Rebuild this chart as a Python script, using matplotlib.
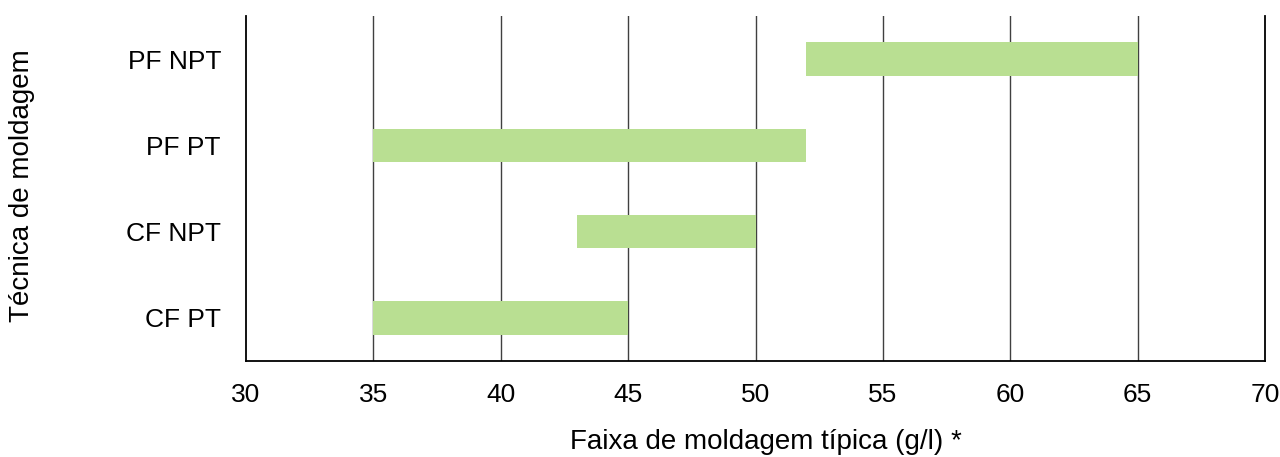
import matplotlib
matplotlib.use("Agg")
import matplotlib.pyplot as plt

categories = ["CF PT", "CF NPT", "PF PT", "PF NPT"]
starts = [35, 43, 35, 52]
ends = [45, 50, 52, 65]
xticks = [30, 35, 40, 45, 50, 55, 60, 65, 70]

plt.rcParams['font.family'] = ['Liberation Sans', 'DejaVu Sans']

fig = plt.figure(figsize=(12.8, 4.57), dpi=100)
ax = fig.add_axes([246/1280, 1-361/457, (1265-246)/1280, (361-16)/457])

widths = [e - s for s, e in zip(starts, ends)]
ax.barh(range(len(categories)), widths, left=starts, height=0.39,
        color='#B9DF92', zorder=3)

ax.set_xlim(30, 70)
ax.set_ylim(-0.5, 3.5)
ax.set_xticks(xticks)
ax.set_xticklabels([str(t) for t in xticks])
ax.set_yticks(range(len(categories)))
ax.set_yticklabels(categories)
ax.tick_params(axis='both', length=0, labelsize=19)
ax.tick_params(axis='y', pad=18)
ax.tick_params(axis='x', pad=16)

for t in xticks[1:-1]:
    ax.axvline(t, color='#404040', lw=1, zorder=1)

ax.spines['top'].set_visible(False)
for s in ['left', 'bottom', 'right']:
    ax.spines[s].set_color('black')
    ax.spines[s].set_linewidth(1.3)

fig.text(766/1280, 2/457, "Faixa de moldagem típica (g/l) *", ha='center',
         va='bottom', fontsize=20)
fig.text(22/1280, 1-186/457, "Técnica de moldagem", ha='center', va='center',
         rotation=90, fontsize=20)

fig.savefig("out.png", dpi=100)
